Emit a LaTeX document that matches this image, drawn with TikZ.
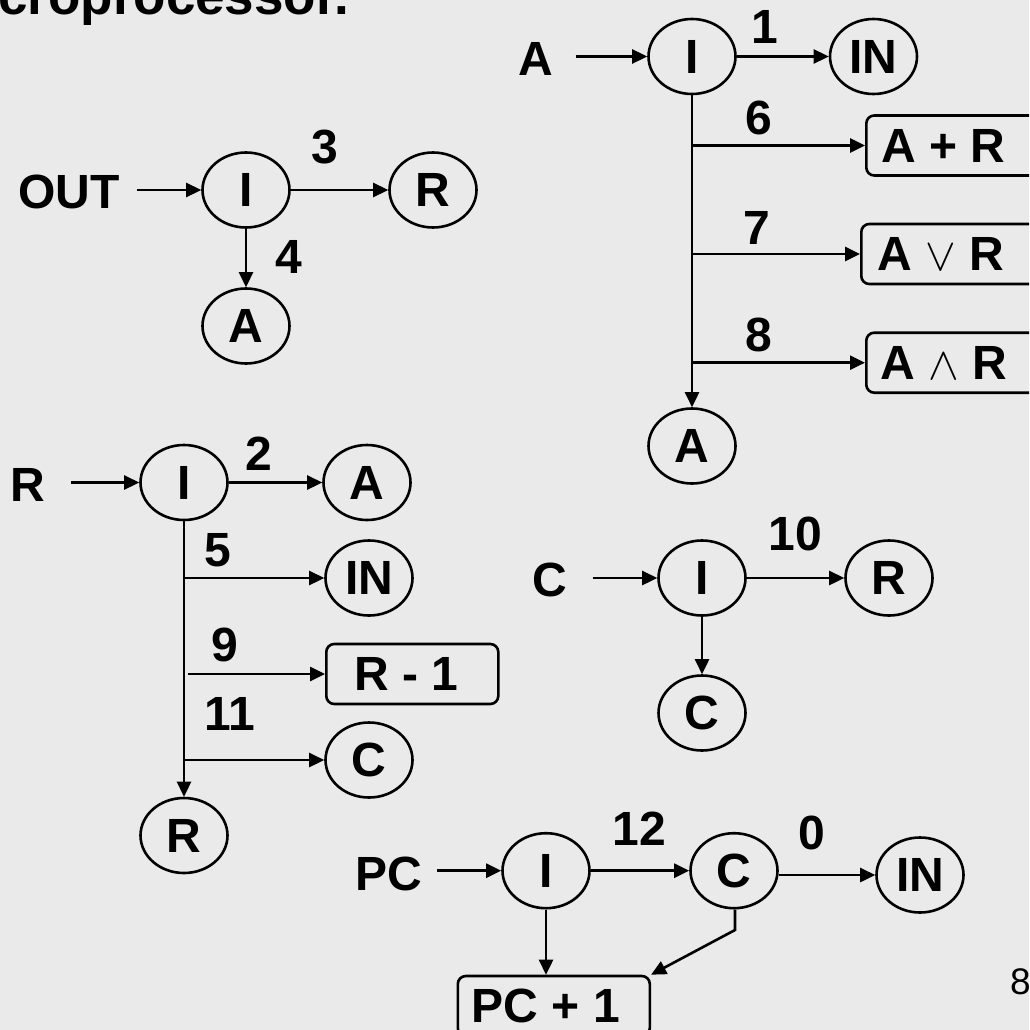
\documentclass[tikz,border=0pt]{standalone}
\usepackage{fix-cm}
\usepackage{fontspec}
\setmainfont{Liberation Sans}
\usetikzlibrary{shapes.geometric,arrows.meta}
\definecolor{bg}{HTML}{EAEAEA}
\newcommand{\tailgap}[1]{\rule{#1}{0pt}}
\newcommand{\opsym}[1]{{\fontsize{46}{50}\selectfont$#1$}}
\begin{document}
\begin{tikzpicture}[x=1pt,y=-1pt,
  every node/.style={font=\fontsize{48}{56}\selectfont\bfseries},
  ell/.style={ellipse,draw,line width=2.6pt,minimum width=87pt,minimum height=75pt,inner sep=0pt},
  bx/.style={rectangle,draw,rounded corners=8pt,line width=2.6pt,minimum height=60pt,inner sep=0pt,anchor=west},
  lbl/.style={inner sep=0pt},
  arr/.style={line width=2.6pt,-{Triangle[length=15pt,width=14pt]}},
  ln/.style={line width=2.6pt}]
\useasboundingbox (0,0) rectangle (1029,1030);
\fill[bg] (0,0) rectangle (1029,1030);
\clip (0,0) rectangle (1029,1030);

% title (cut off)
\node[lbl, anchor=base west, font=\fontsize{53}{60}\selectfont\bfseries] (title) at (-2,15) {croprocessor.};

% ---- group A (top right)
\node[lbl] (tA) at (536,59) {A};
\node[ell] (I1) at (692,56.5) {I};
\node[ell] (IN1) at (873.5,56.5) {IN};
\node[lbl] (l1) at (765,26.7) {1};
\node[ell] (A2) at (692,446) {A};
\node[bx, minimum width=175pt] (b6) at (865,145.5) {A + R\tailgap{21pt}};
\node[bx, minimum width=180pt] (b7) at (860,254) {A \opsym{\vee} R\tailgap{20pt}};
\node[bx, minimum width=175pt] (b8) at (865,362.7) {A \opsym{\wedge} R\tailgap{19pt}};
\node[lbl] (l6) at (759,118) {6};
\node[lbl] (l7) at (757,227.5) {7};
\node[lbl] (l8) at (759,335) {8};
\draw[arr, shorten <=22pt] (tA.east |- I1.west) -- (I1.west);
\draw[arr] (I1.east) -- (IN1.west);
\draw[arr] (I1.south) -- (A2.north);
\draw[arr] (I1.south |- b6.west) -- (b6.west);
\draw[arr] (I1.south |- b7.west) -- (b7.west);
\draw[arr] (I1.south |- b8.west) -- (b8.west);

% ---- group OUT
\node[lbl] (tOUT) at (69,192) {OUT};
\node[ell] (I2) at (246,190) {I};
\node[ell] (R2) at (433,190) {R};
\node[lbl] (l3) at (325,147) {3};
\node[ell] (A3) at (246,326) {A};
\node[lbl] (l4) at (289,257) {4};
\draw[arr, shorten <=17pt] (tOUT.east |- I2.west) -- (I2.west);
\draw[arr] (I2.east) -- (R2.west);
\draw[arr] (I2.south) -- (A3.north);

% ---- group R
\node[lbl] (tR) at (27.5,485) {R};
\node[ell] (I3) at (184,482.5) {I};
\node[ell] (A4) at (367,482.5) {A};
\node[lbl] (l2) at (259,454) {2};
\node[ell] (R4) at (184,835.5) {R};
\node[ell] (IN4) at (369,578) {IN};
\node[lbl] (l5) at (218,550) {5};
\node[bx, minimum width=172pt] (rm1) at (325,674) {R - 1\tailgap{12pt}};
\node[lbl] (l9) at (225,645) {9};
\node[ell] (C4) at (369,760) {C};
\node[lbl] (l11) at (230,714) {11};
\draw[arr, shorten <=26pt] (tR.east |- I3.west) -- (I3.west);
\draw[arr] (I3.east) -- (A4.west);
\draw[arr] (I3.south) -- (R4.north);
\draw[arr] (I3.south |- IN4.west) -- (IN4.west);
\draw[arr, shorten <=4pt] (I3.south |- rm1.west) -- (rm1.west);
\draw[arr] (I3.south |- C4.west) -- (C4.west);

% ---- group C
\node[lbl] (tC) at (550,580) {C};
\node[ell] (I5) at (702,578) {I};
\node[ell] (R5) at (889,578) {R};
\node[lbl] (l10) at (795,534) {10};
\node[ell] (C5) at (702,713) {C};
\draw[arr, shorten <=25pt] (tC.east |- I5.west) -- (I5.west);
\draw[arr] (I5.east) -- (R5.west);
\draw[arr] (I5.south) -- (C5.north);

% ---- group PC
\node[lbl] (tPC) at (389,874) {PC};
\node[ell] (I6) at (546,870.7) {I};
\node[ell] (C6) at (734,870.7) {C};
\node[ell] (IN6) at (920,875) {IN};
\node[lbl] (l12) at (639,828.7) {12};
\node[lbl] (l0) at (812,833) {0};
\node[bx, minimum width=192pt] (pc1) at (456.5,1006) {PC + 1\tailgap{16pt}};
\coordinate (ck) at (735,930);
\draw[arr, shorten <=14.5pt] (tPC.east |- I6.west) -- (I6.west);
\draw[arr] (I6.east) -- (C6.west);
\draw[arr] (IN6.west -| C6.east) -- (IN6.west);
\draw[arr] (I6.south) -- (I6.south |- pc1.north);
\draw[arr] (ck |- C6.south) -- (ck) -- (pc1.north east);

% page number
\node[lbl, anchor=west, font=\fontsize{37}{40}\selectfont] (pg) at (1010,981.5) {8};
\end{tikzpicture}
\end{document}
